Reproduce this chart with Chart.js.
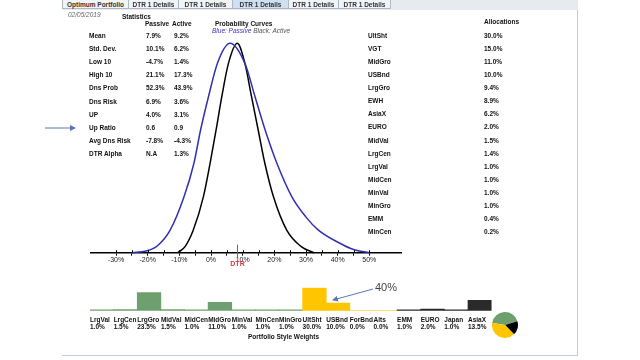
<!DOCTYPE html>
<html>
<head>
<meta charset="utf-8">
<script src="https://cdn.jsdelivr.net/npm/chart.js@4.4.0/dist/chart.umd.min.js"></script>
<style>
html, body { margin: 0; padding: 0; background: #fff; }
#page { position: relative; width: 640px; height: 360px; overflow: hidden; font-family: Arial, "Liberation Sans", sans-serif; }
.t { position: absolute; white-space: nowrap; font-size: 6.5px; line-height: 8px; color: #111; font-weight: bold; }
.tab { position: absolute; top: 0; height: 9px; border: 1px solid #aeb8c4; border-top: none; background: #f1f4f7; font-size: 6.5px; line-height: 9px; font-weight: bold; color: #333; text-align: center; box-sizing: border-box; }
canvas { position: absolute; }
</style>
</head>
<body>
<div id="page">
  <div style="position:absolute;left:62px;top:0;width:516px;height:10px;background:#e6ebf0;"></div>
  <div style="position:absolute;left:62px;top:10px;width:515px;height:345px;border-right:1px solid #c4ccd4;border-bottom:1px solid #c4ccd4;"></div>
  <canvas id="curves" width="330" height="255" style="left:80px;top:25px"></canvas>
  <canvas id="weights" width="440" height="65" style="left:80px;top:280px"></canvas>
  <canvas id="mix" width="26" height="26" style="left:492px;top:312px"></canvas>
  <svg style="position:absolute;left:0;top:0" width="640" height="360">
    <defs>
      <marker id="ah" markerWidth="6" markerHeight="6" refX="5" refY="3" orient="auto" markerUnits="userSpaceOnUse">
        <path d="M0,0 L6,3 L0,6 z" fill="#5a78b0"/>
      </marker>
    </defs>
    <line x1="45" y1="128" x2="75" y2="128" stroke="#5a78b0" stroke-width="1" marker-end="url(#ah)"/>
    <line x1="373" y1="289" x2="333" y2="300" stroke="#5a78b0" stroke-width="1" marker-end="url(#ah)"/>
  </svg>
</div>
<script>
// tabs
const tabNames = ['Optimum Portfolio', 'DTR 1 Details', 'DTR 1 Details', 'DTR 1 Details', 'DTR 1 Details', 'DTR 1 Details'];
const tabEdges = [62, 128, 178, 232, 288, 338, 390];
const activeTab = 3;

// statistics table
const statNames = ['Mean', 'Std. Dev.', 'Low 10', 'High 10', 'Dns Prob', 'Dns Risk', 'UP', 'Up Ratio', 'Avg Dns Risk', 'DTR Alpha'];
const statPassive = ['7.9%', '10.1%', '-4.7%', '21.1%', '52.3%', '6.9%', '4.0%', '0.6', '-7.8%', 'N.A'];
const statActive = ['9.2%', '6.2%', '1.4%', '17.3%', '43.9%', '3.6%', '3.1%', '0.9', '-4.3%', '1.3%'];

// allocations list
const allocNames = ['UltSht', 'VGT', 'MidGro', 'USBnd', 'LrgGro', 'EWH', 'AsiaX', 'EURO', 'MidVal', 'LrgCen', 'LrgVal', 'MidCen', 'MinVal', 'MinGro', 'EMM', 'MinCen'];
const allocValues = [30.0, 15.0, 11.0, 10.0, 9.4, 8.9, 6.2, 2.0, 1.5, 1.4, 1.0, 1.0, 1.0, 1.0, 0.4, 0.2];

// probability curves (return %, relative height)
const passiveX = [-25, -20.5, -17, -13, -8.5, -5.4, -3.3, -0.8, 2.0, 6.0, 10.7, 13.9, 17.1, 20.8, 25.5, 30, 33.9, 40.7, 45, 50];
const passiveY = [0, 0.8, 3.2, 10.5, 26.8, 42.7, 58.6, 74.5, 90.4, 100, 90.4, 74.5, 58.6, 42.7, 26.8, 17, 10.8, 4.5, 1.5, 0];
const activeX = [-10.5, -8.2, -5.6, -2.4, -0.3, 1.6, 3.4, 5.5, 8.3, 10.7, 12.8, 14.9, 17.0, 19.7, 23.9, 28.5, 32.5];
const activeY = [0, 2.9, 10.8, 26.8, 42.7, 58.6, 74.5, 90.4, 100, 90.4, 74.5, 58.6, 42.7, 26.8, 10.8, 2.9, 0];
const tickMarks = [-30, -25, -20, -15, -10, -5, 0, 5, 10, 15, 20, 25, 30, 35, 40, 45, 50];
const dtrMark = 8.3;

// portfolio style weights
const styleNames = ['LrgVal', 'LrgCen', 'LrgGro', 'MidVal', 'MidCen', 'MidGro', 'MinVal', 'MinCen', 'MinGro', 'UltSht', 'USBnd', 'ForBnd', 'Alts', 'EMM', 'EURO', 'Japan', 'AsiaX'];
const styleWeights = [1.0, 1.5, 23.5, 1.5, 1.0, 11.0, 1.0, 1.0, 1.0, 30.0, 10.0, 0.0, 0.0, 1.0, 2.0, 1.0, 13.5];
const styleGroup = [0, 0, 0, 0, 0, 0, 0, 0, 0, 1, 1, 1, 1, 2, 2, 2, 2];

// pie: equity / international / fixed
const pieLabels = ['Equity', 'International', 'Fixed'];
const pieValues = [42.5, 17.5, 40.0];

const GREEN = '#6d9f6f', YELLOW = '#ffc600', BLACK = '#000000';
const groupColors = [GREEN, YELLOW, '#2a2a2a'];

const page = document.getElementById('page');

function put(x, y, str, css) {
    const d = document.createElement('div');
    d.className = 't';
    d.textContent = str;
    d.style.left = x + 'px';
    d.style.top = (y - 4) + 'px';
    if (css) Object.assign(d.style, css);
    page.appendChild(d);
    return d;
}

// tab bar
tabNames.forEach((n, i) => {
    const d = document.createElement('div');
    d.className = 'tab';
    d.textContent = n;
    d.style.left = tabEdges[i] + 'px';
    d.style.width = (tabEdges[i + 1] - tabEdges[i] + 1) + 'px';
    if (i === activeTab) d.style.background = '#cfe0f2';
    page.appendChild(d);
});

put(68, 15, '02/05/2019', { fontWeight: 'normal', fontStyle: 'italic', color: '#666' });
put(122, 16.5, 'Statistics');
put(145, 23.5, 'Passive');
put(172, 23.5, 'Active');
statNames.forEach((n, i) => {
    const y = 35.5 + i * 13.2;
    put(89, y, n);
    put(146, y, statPassive[i]);
    put(174, y, statActive[i]);
});

put(215, 23.5, 'Probability Curves');
const leg = put(212, 31, '', { fontWeight: 'normal', fontStyle: 'italic' });
leg.innerHTML = '<span style="color:#3535b8">Blue: Passive</span> <span style="color:#555">Black: Active</span>';

put(484, 22, 'Allocations');
allocNames.forEach((n, i) => {
    const y = 35.5 + i * 13.13;
    put(368, y, n);
    put(484, y, allocValues[i].toFixed(1) + '%');
});

put(248, 336.5, 'Portfolio Style Weights');
put(375, 287, '40%', { fontWeight: 'normal', fontSize: '11px', lineHeight: '8px', color: '#444' });

// extra marks on the curve axis: ticks crossing the line, DTR marker
const axisExtras = {
    id: 'axisExtras',
    afterDraw(chart) {
        const ctx = chart.ctx;
        const xs = chart.scales.x;
        const base = chart.chartArea.bottom;
        ctx.save();
        ctx.strokeStyle = '#000';
        ctx.lineWidth = 1;
        tickMarks.forEach(v => {
            const px = Math.round(xs.getPixelForValue(v)) + 0.5;
            ctx.beginPath();
            ctx.moveTo(px, base - 2.5);
            ctx.lineTo(px, base);
            ctx.stroke();
        });
        const dx = Math.round(xs.getPixelForValue(dtrMark)) + 0.5;
        ctx.strokeStyle = '#d83a3a';
        ctx.beginPath();
        ctx.moveTo(dx, base - 8);
        ctx.lineTo(dx, base + 5);
        ctx.stroke();
        ctx.fillStyle = '#d83a3a';
        ctx.font = 'bold 7px Arial';
        ctx.textAlign = 'center';
        ctx.textBaseline = 'middle';
        ctx.fillText('DTR', dx, base + 11.5);
        ctx.restore();
    }
};

new Chart(document.getElementById('curves'), {
    type: 'line',
    data: {
        datasets: [{
            label: 'Passive',
            data: passiveX.map((x, i) => ({ x, y: passiveY[i] })),
            borderColor: '#3030b0',
            borderWidth: 1.5,
            pointRadius: 0,
            cubicInterpolationMode: 'monotone',
            fill: false,
            clip: false
        }, {
            label: 'Active',
            data: activeX.map((x, i) => ({ x, y: activeY[i] })),
            borderColor: '#000',
            borderWidth: 1.5,
            pointRadius: 0,
            cubicInterpolationMode: 'monotone',
            fill: false,
            clip: false
        }]
    },
    options: {
        responsive: false,
        animation: false,
        layout: { padding: { left: 10.7, right: 9, top: 18.3, bottom: 7.3 } },
        plugins: { legend: { display: false }, tooltip: { enabled: false } },
        scales: {
            x: {
                type: 'linear',
                min: -38,
                max: 60,
                afterBuildTicks: s => { s.ticks = tickMarks.map(v => ({ value: v })); },
                afterFit: s => { s.height = 20; },
                grid: { drawOnChartArea: false, color: '#000', tickLength: 3, lineWidth: 1 },
                border: { color: '#000', width: 1.5 },
                ticks: {
                    padding: 0,
                    autoSkip: false,
                    maxRotation: 0,
                    color: '#222',
                    font: { family: 'Arial', size: 7 },
                    callback: v => (v % 10 === 0 ? v + '%' : '')
                }
            },
            y: { display: false, min: 0, max: 100 }
        }
    },
    plugins: [axisExtras]
});

new Chart(document.getElementById('weights'), {
    type: 'bar',
    data: {
        labels: styleNames.map((n, i) => [n, styleWeights[i].toFixed(1) + '%']),
        datasets: [{
            data: styleWeights,
            backgroundColor: styleGroup.map(g => groupColors[g]),
            categoryPercentage: 1,
            barPercentage: 1,
            borderWidth: 0
        }]
    },
    options: {
        responsive: false,
        animation: false,
        layout: { padding: { left: 10, right: 28.4, top: 7.7, bottom: 14.3 } },
        plugins: { legend: { display: false }, tooltip: { enabled: false } },
        scales: {
            x: {
                grid: { display: false, drawTicks: false },
                border: { display: false },
                afterFit: s => { s.height = 20; },
                ticks: {
                    autoSkip: false,
                    maxRotation: 0,
                    minRotation: 0,
                    align: 'start',
                    labelOffset: -11.8,
                    padding: 5.7,
                    color: '#111',
                    font: { family: 'Arial', size: 6.5, weight: 'bold', lineHeight: 1.1 }
                }
            },
            y: { display: false, min: 0, max: 30 }
        }
    }
});

new Chart(document.getElementById('mix'), {
    type: 'pie',
    data: {
        labels: pieLabels,
        datasets: [{
            data: pieValues,
            backgroundColor: [GREEN, BLACK, YELLOW],
            borderWidth: 0
        }]
    },
    options: {
        responsive: false,
        animation: false,
        rotation: -80,
        plugins: { legend: { display: false }, tooltip: { enabled: false } }
    }
});
</script>
</body>
</html>
